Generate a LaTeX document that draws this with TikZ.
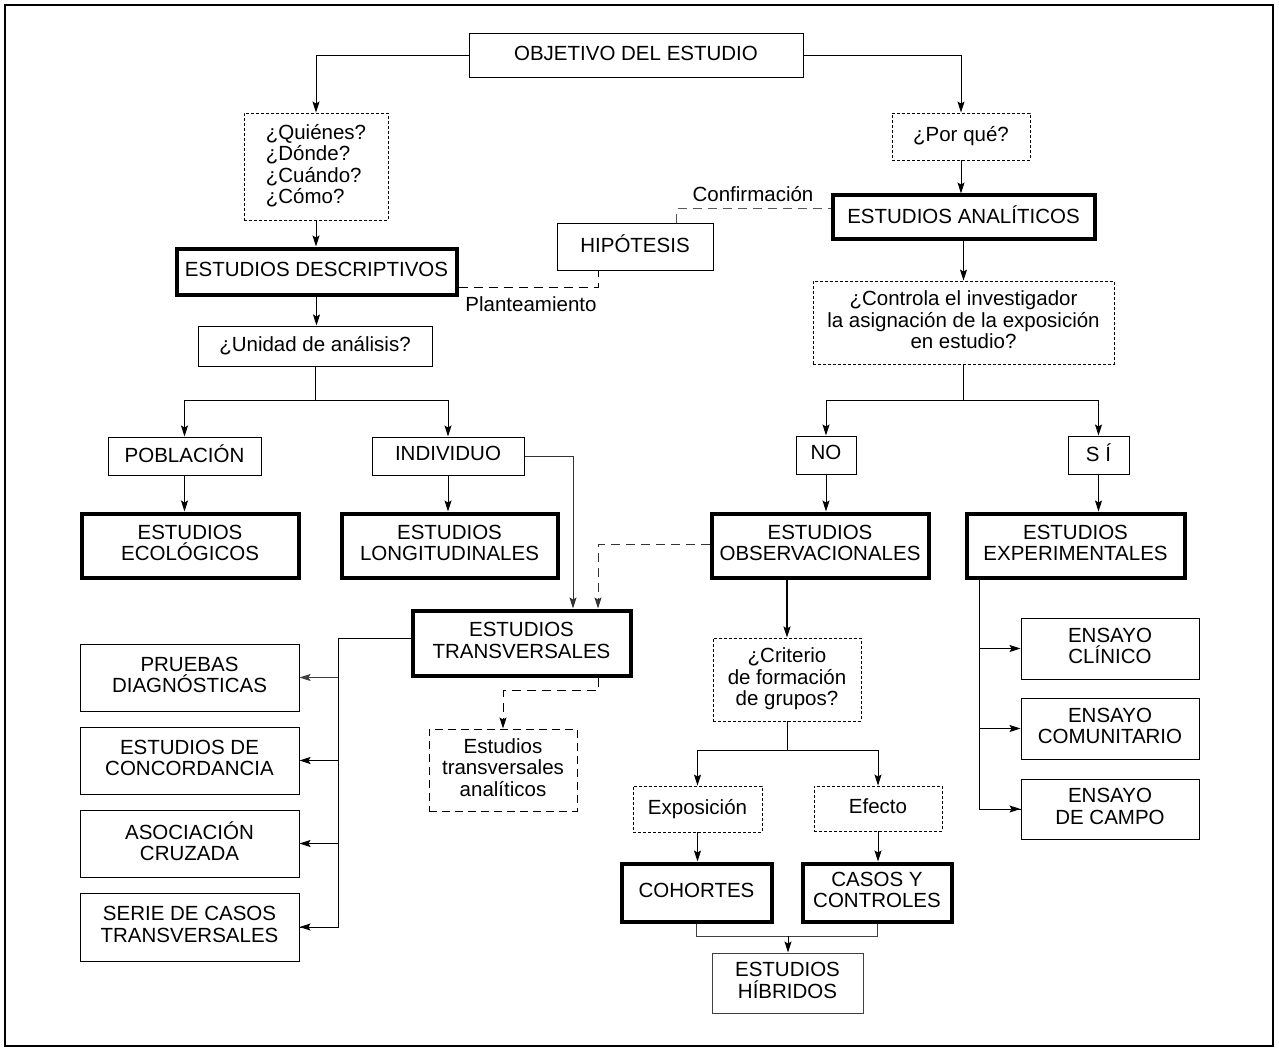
\documentclass[tikz,border=0pt]{standalone}
\usepackage{fontspec}
\setmainfont{Liberation Sans}
\usetikzlibrary{arrows.meta,calc}
\newcommand{\fz}{\fontsize{20.5}{21.5}\selectfont}
\begin{document}
\begin{tikzpicture}[x=1pt,y=-1pt,
  box/.style={draw, line width=1pt, inner sep=0pt, align=center, font=\fz, text depth=5pt},
  thickbox/.style={box, line width=4pt},
  dotbox/.style={box, line width=0.9pt, dash pattern=on 3pt off 2pt},
  dashbox/.style={box, line width=1pt, dash pattern=on 8pt off 5pt},
  conn/.style={line width=1pt},
  arr/.style={conn, -{Stealth[length=11pt,width=7pt,inset=2pt]}},
  dconn/.style={conn, dash pattern=on 9pt off 6pt},
  lbl/.style={inner sep=0pt, font=\fz}]
\useasboundingbox (0,0) rectangle (1279,1051);
\draw[line width=1.2pt] (5,5) rectangle (1273,1046);

% nodes
\node[box, minimum width=334pt, minimum height=44pt] (obj) at (636,56) {OBJETIVO DEL ESTUDIO};
\node[dotbox, minimum width=144pt, minimum height=107pt, align=left] (quien) at (316,166.5) {¿Quiénes?\\¿Dónde?\\¿Cuándo?\\¿Cómo?};
\node[dotbox, minimum width=138pt, minimum height=47pt] (porque) at (961,136.5) {¿Por qué?};
\node[thickbox, minimum width=262pt, minimum height=43pt] (anal) at (963.5,217) {ESTUDIOS ANALÍTICOS};
\node[box, minimum width=156pt, minimum height=47pt] (hipo) at (635,246.5) {HIPÓTESIS};
\node[thickbox, minimum width=280pt, minimum height=46pt] (desc) at (316.5,271.5) {ESTUDIOS DESCRIPTIVOS};
\node[box, minimum width=234pt, minimum height=40pt] (unidad) at (315,346) {¿Unidad de análisis?};
\node[dotbox, minimum width=301pt, minimum height=83pt] (controla) at (963.5,322.5) {¿Controla el investigador\\la asignación de la exposición\\en estudio?};
\node[box, minimum width=153pt, minimum height=38pt] (pobl) at (184.5,456) {POBLACIÓN};
\node[box, minimum width=152pt, minimum height=38pt] (indiv) at (448,456) {INDIVIDUO};
\node[box, minimum width=60pt, minimum height=38pt] (no) at (826,455) {NO};
\node[box, minimum width=61pt, minimum height=38pt] (si) at (1098.5,455) {S Í};
\node[thickbox, minimum width=217pt, minimum height=64pt] (ecol) at (190,545.5) {ESTUDIOS\\ECOLÓGICOS};
\node[thickbox, minimum width=216pt, minimum height=64pt] (long) at (449.5,545.5) {ESTUDIOS\\LONGITUDINALES};
\node[thickbox, minimum width=217pt, minimum height=64pt] (obs) at (820,545.5) {ESTUDIOS\\OBSERVACIONALES};
\node[thickbox, minimum width=218pt, minimum height=64pt] (exp) at (1075.5,545.5) {ESTUDIOS\\EXPERIMENTALES};
\node[thickbox, minimum width=218pt, minimum height=65pt] (trans) at (521.5,643) {ESTUDIOS\\TRANSVERSALES};
\node[box, minimum width=219pt, minimum height=67pt] (prueb) at (189.5,677.5) {PRUEBAS\\DIAGNÓSTICAS};
\node[box, minimum width=219pt, minimum height=67pt] (conc) at (189.5,760.5) {ESTUDIOS DE\\CONCORDANCIA};
\node[box, minimum width=219pt, minimum height=67pt] (asoc) at (189.5,843.5) {ASOCIACIÓN\\CRUZADA};
\node[box, minimum width=219pt, minimum height=68pt] (serie) at (189.5,927) {SERIE DE CASOS\\TRANSVERSALES};
\node[dashbox, minimum width=148pt, minimum height=82pt] (tanal) at (503,770) {Estudios\\transversales\\analíticos};
\node[dotbox, minimum width=148pt, minimum height=83pt] (crit) at (787,679.5) {¿Criterio\\de formación\\de grupos?};
\node[box, minimum width=178pt, minimum height=61pt] (clin) at (1110,648.5) {ENSAYO\\CLÍNICO};
\node[box, minimum width=178pt, minimum height=61pt] (comu) at (1110,728.5) {ENSAYO\\COMUNITARIO};
\node[box, minimum width=178pt, minimum height=60pt] (campo) at (1110,809) {ENSAYO\\DE CAMPO};
\node[dotbox, minimum width=129pt, minimum height=46pt] (expo) at (697.5,809) {Exposición};
\node[dotbox, minimum width=128pt, minimum height=45pt] (efec) at (878,808.5) {Efecto};
\node[thickbox, minimum width=150pt, minimum height=58pt] (coh) at (696.5,892.5) {COHORTES};
\node[thickbox, minimum width=149pt, minimum height=58pt] (casos) at (877,892.5) {CASOS Y\\CONTROLES};
\node[box, draw=black!75, minimum width=151pt, minimum height=60pt] (hib) at (787.5,983) {ESTUDIOS\\HÍBRIDOS};

\node[lbl] (conf) at (753,194) {Confirmación};
\node[lbl] (plan) at (531,304) {Planteamiento};

% connectors
\draw[arr] (obj.west) -| (quien.north);
\draw[arr] (obj.east) -| (porque.north);
\draw[arr] (quien.south) -- (quien.south |- desc.north);
\draw[arr] (porque.south) -- (porque.south |- anal.north);
\draw[arr] (anal.south) -- (anal.south |- controla.north);
\draw[arr] (desc.south) -- (desc.south |- unidad.north);

\coordinate (ub) at (315,400);
\draw[conn] (unidad.south) -- (ub);
\draw[arr] (ub) -| (pobl.north);
\draw[arr] (ub) -| (indiv.north);
\draw[arr] (pobl.south) -- (pobl.south |- ecol.north);
\draw[arr] (indiv.south) -- (indiv.south |- long.north);
\draw[arr, draw=black!80] (indiv.east) -| ([xshift=51.5pt]trans.north);
\draw[dconn, draw=black!80, -{Stealth[length=11pt,width=7pt,inset=2pt]}] ([yshift=1pt]obs.west) -| ([xshift=76.5pt]trans.north);

\coordinate (cb) at (963.5,400);
\draw[conn] (controla.south) -- (cb);
\draw[arr] (cb) -| (no.north);
\draw[arr] (cb) -| (si.north);
\draw[arr] (no.south) -- (no.south |- obs.north);
\draw[arr] (si.south) -- (si.south |- exp.north);

\draw[arr, line width=1.8pt] (crit.north |- obs.south) -- (crit.north);
\coordinate (kb) at (787,750);
\draw[conn] (crit.south) -- (kb);
\draw[arr] (kb) -| (expo.north);
\draw[arr] (kb) -| (efec.north);
\draw[arr] (expo.south) -- (expo.south |- coh.north);
\draw[arr] (efec.south) -- (efec.south |- casos.north);

\coordinate (hb) at (788,936);
\draw[conn, draw=black!75] (coh.south) |- (hb) -| (casos.south);
\draw[arr] (hb) -- (hb |- hib.north);

\coordinate (ev) at (979,579);
\draw[conn] (ev) |- (campo.west);
\draw[arr] (ev |- clin.west) -- (clin.west);
\draw[arr] (ev |- comu.west) -- (comu.west);
\draw[arr] (ev |- campo.west) -- (campo.west);

\coordinate (tv) at (338,638);
\draw[conn] ([yshift=5pt]trans.west) -- (tv) |- (serie.east);
\draw[arr, draw=black!75] (tv |- prueb.east) -- (prueb.east);
\draw[arr, line width=1.6pt] (tv |- conc.east) -- (conc.east);
\draw[arr] (tv |- asoc.east) -- (asoc.east);
\draw[arr] (tv |- serie.east) -- (serie.east);

\draw[dconn, -{Stealth[length=11pt,width=7pt,inset=2pt]}] ([xshift=76.5pt]trans.south) -- ++(0,13) -| (tanal.north);

\draw[dconn] ([yshift=-15.5pt]desc.east) -| ([xshift=-37pt]hipo.south);
\draw[dconn, draw=black!65] ([xshift=41pt]hipo.north) |- ([yshift=8pt]anal.west);
\end{tikzpicture}
\end{document}
